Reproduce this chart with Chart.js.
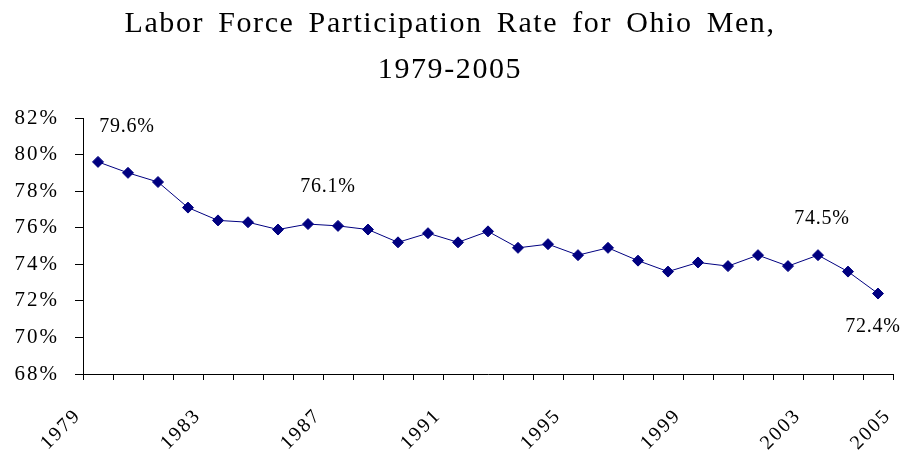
<!DOCTYPE html>
<html>
<head>
<meta charset="utf-8">
<script src="https://cdn.jsdelivr.net/npm/chart.js@4/dist/chart.umd.min.js"></script>
<style>
  html, body { margin: 0; padding: 0; background: #ffffff; }
  #wrap { width: 902px; height: 458px; position: relative; }
</style>
</head>
<body>
<div id="wrap"><canvas id="c"></canvas></div>
<script>
// ---- data ----
const years = ['1979','1980','1981','1982','1983','1984','1985','1986','1987','1988',
               '1989','1990','1991','1992','1993','1994','1995','1996','1997','1998',
               '1999','2000','2001','2002','2003','2004','2005'];
const rates = [79.6, 79.0, 78.5, 77.1, 76.4, 76.3, 75.9, 76.2, 76.1, 75.9,
               75.2, 75.7, 75.2, 75.8, 74.9, 75.1, 74.5, 74.9, 74.2, 73.6,
               74.1, 73.9, 74.5, 73.9, 74.5, 73.6, 72.4];
const xTickLabels = ['1979','1983','1987','1991','1995','1999','2003','2005'];
const yTickValues = [68, 70, 72, 74, 76, 78, 80, 82];
const labeledYears = ['1979','1987','2003','2005'];
const titleLines = ['Labor Force Participation Rate for Ohio Men,', '1979-2005'];

// ---- styling / placement of annotations ----
const SERIF = "'Liberation Serif', 'Times New Roman', Times, serif";
const NAVY = '#000080';
const labelPlacement = {        // pixel offsets of value labels from their points
  '1979': { dx: 29, dy: -35 },
  '1987': { dx: -10, dy: -39 },
  '2003': { dx: 4,  dy: -36 },
  '2005': { dx: -5, dy: 33 }
};

const textPlugin = {
  id: 'textPlugin',
  beforeDraw(chart) {
    chart.ctx.letterSpacing = '2px';
    // last category label sits on the far boundary, as in the original
    const xs = chart.scales.x;
    const items = xs.getLabelItems();
    const band = xs.width / years.length;
    items.forEach(it => {
      if (it.label === years[years.length - 1] && !it._shifted) {
        it.options.translation[0] += band;
        it._shifted = true;
      }
    });
  },
  afterDraw(chart) {
    const ctx = chart.ctx;
    ctx.save();
    // title
    ctx.fillStyle = '#000';
    ctx.textAlign = 'center';
    ctx.textBaseline = 'alphabetic';
    ctx.font = '30px ' + SERIF;
    ctx.letterSpacing = '1.6px';
    ctx.wordSpacing = '5px';
    ctx.fillText(titleLines[0], chart.width / 2 - 1, 32);
    ctx.wordSpacing = '0px';
    ctx.fillText(titleLines[1], chart.width / 2 - 1, 77.5);
    // value labels
    const meta = chart.getDatasetMeta(0);
    ctx.font = '20px ' + SERIF;
    ctx.letterSpacing = '0.8px';
    ctx.textBaseline = 'middle';
    labeledYears.forEach(y => {
      const i = years.indexOf(y);
      const pt = meta.data[i];
      const p = labelPlacement[y];
      ctx.fillText(rates[i].toFixed(1) + '%', pt.x + p.dx, pt.y + p.dy);
    });
    ctx.restore();
    ctx.letterSpacing = '0px';
  }
};

new Chart(document.getElementById('c'), {
  type: 'line',
  data: {
    labels: years,
    datasets: [{
      data: rates,
      borderColor: NAVY,
      backgroundColor: NAVY,
      borderWidth: 1,
      pointStyle: 'rectRot',
      pointRadius: 5.5,
      pointBorderWidth: 1,
      pointBorderColor: NAVY,
      pointBackgroundColor: NAVY,
      tension: 0,
      fill: false
    }]
  },
  options: {
    responsive: true,
    maintainAspectRatio: false,
    animation: false,
    events: [],
    layout: { padding: { top: 118, right: 9, left: 0, bottom: 0 } },
    plugins: { legend: { display: false }, title: { display: false }, tooltip: { enabled: false } },
    scales: {
      x: {
        type: 'category',
        offset: true,
        grid: { offset: true, drawOnChartArea: false, drawTicks: true, tickLength: 6, color: '#000', lineWidth: 1 },
        border: { display: true, color: '#000', width: 1 },
        ticks: {
          autoSkip: false,
          minRotation: 45,
          maxRotation: 45,
          padding: 24,
          labelOffset: -20,
          color: '#000',
          font: { family: SERIF, size: 20 },
          callback: function (v, i) {
            const l = this.getLabelForValue(v);
            return xTickLabels.includes(l) ? l : '';
          }
        },
        afterFit: s => { s.height = 84; s.paddingLeft = 0; s.paddingRight = 0; }
      },
      y: {
        min: yTickValues[0],
        max: yTickValues[yTickValues.length - 1],
        afterBuildTicks: s => { s.ticks = yTickValues.map(v => ({ value: v })); },
        grid: { drawOnChartArea: false, drawTicks: true, tickLength: 8, color: '#000', lineWidth: 1 },
        border: { display: true, color: '#000', width: 1 },
        ticks: {
          padding: 16,
          color: '#000',
          font: { family: SERIF, size: 21 },
          callback: v => v + '%'
        },
        afterFit: s => { s.width = 83; s.paddingTop = 0; s.paddingBottom = 0; }
      }
    }
  },
  plugins: [textPlugin]
});
</script>
</body>
</html>
